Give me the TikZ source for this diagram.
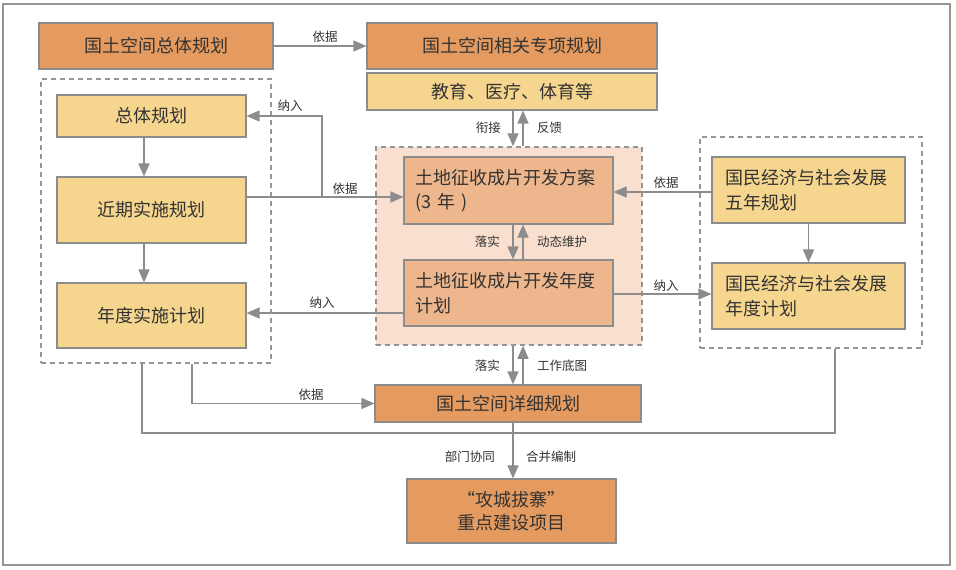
\documentclass[tikz,border=0pt]{standalone}
\usepackage{fontspec}
\setmainfont{Noto Sans CJK SC}
\usetikzlibrary{arrows.meta}
\definecolor{dorange}{HTML}{E59B5F}
\definecolor{lyellow}{HTML}{F6D68E}
\definecolor{pinkbg}{HTML}{F9DFCE}
\definecolor{salmon}{HTML}{EEB68C}
\definecolor{lgray}{HTML}{8C8C8C}
\definecolor{dgray}{HTML}{959595}
\definecolor{txt}{HTML}{333333}
\begin{document}
\begin{tikzpicture}[x=1pt,y=-1pt,
  box/.style={draw=lgray, line width=1.1pt, text=txt, font=\fontsize{18}{24.5}\selectfont, inner sep=0pt, align=center},
  lbox/.style={box, align=left, inner xsep=11pt},
  dbox/.style={draw=dgray, line width=1.5pt, dash pattern=on 5pt off 4pt, inner sep=0pt},
  conn/.style={draw=lgray, line width=1.4pt},
  arr/.style={conn, -{Triangle[length=13pt,width=11pt]}},
  lbl/.style={font=\fontsize{12.5}{14}\selectfont, text=txt, inner sep=0pt},
]
\useasboundingbox (0,0) rectangle (956,570);
\draw[draw=dgray, line width=1.2pt, fill=white] (3,4) rectangle (950,565);

% regions
\node[dbox, fill=pinkbg, minimum width=266pt, minimum height=198pt] (pk) at (509,246) {};
\node[dbox, minimum width=230pt, minimum height=284pt] (ld) at (156,221) {};
\node[dbox, minimum width=222pt, minimum height=211pt] (rd) at (811,242.5) {};

% boxes
\node[box, fill=dorange, minimum width=234pt, minimum height=46pt] (gtzt) at (156,46) {国土空间总体规划};
\node[box, fill=dorange, minimum width=290pt, minimum height=46pt] (gtzx) at (512,46) {国土空间相关专项规划};
\node[box, fill=lyellow, minimum width=290pt, minimum height=37pt] (jy) at (512,91.5) {教育、医疗、体育等};
\node[box, fill=lyellow, minimum width=189pt, minimum height=42pt] (zt) at (151.5,116) {总体规划};
\node[box, fill=lyellow, minimum width=189pt, minimum height=66pt] (jq) at (151.5,210) {近期实施规划};
\node[box, fill=lyellow, minimum width=189pt, minimum height=65pt] (nd) at (151.5,315.5) {年度实施计划};
\node[lbox, fill=salmon, text width=187pt, minimum height=67pt] (fa) at (508.5,190.5) {土地征收成片开发方案\\(3 年 )};
\node[lbox, fill=salmon, text width=187pt, minimum height=66pt] (ndjh) at (508.5,293) {土地征收成片开发年度\\计划};
\node[lbox, fill=lyellow, inner xsep=13pt, text width=167pt, minimum height=66pt] (gm5) at (808.5,190) {国民经济与社会发展\\五年规划};
\node[lbox, fill=lyellow, inner xsep=13pt, text width=167pt, minimum height=66pt] (gmnd) at (808.5,296) {国民经济与社会发展\\年度计划};
\node[box, fill=dorange, minimum width=266pt, minimum height=37pt] (xx) at (508,403.5) {国土空间详细规划};
\node[box, fill=dorange, minimum width=209pt, minimum height=64pt, font=\fontsize{18}{23}\selectfont] (gc) at (511.5,511) {“攻城拔寨”\\重点建设项目};

% helper coordinates
\coordinate (xa) at (513,0);
\coordinate (xb) at (523,0);
\coordinate (xl) at (144,0);
\coordinate (y1) at (0,197);
\coordinate (y2) at (0,192);
\coordinate (y3) at (0,294);
\coordinate (y4) at (0,313);
\coordinate (k1) at (322,197);
\coordinate (b1) at (142,0);
\coordinate (b2) at (835,433);
\coordinate (b3) at (192,0);

% connectors
\draw[arr] (gtzt.east) -- (gtzx.west);
\draw[arr] (xa |- jy.south) -- (xa |- pk.north);
\draw[arr] (xb |- pk.north) -- (xb |- jy.south);
\draw[arr] (xa |- fa.south) -- (xa |- ndjh.north);
\draw[arr] (xb |- ndjh.north) -- (xb |- fa.south);
\draw[arr] (xa |- pk.south) -- (xa |- xx.north);
\draw[arr] (xb |- xx.north) -- (xb |- pk.south);
\draw[arr] (xl |- zt.south) -- (xl |- jq.north);
\draw[arr] (xl |- jq.south) -- (xl |- nd.north);
\draw[arr] (gm5) -- (gmnd);
\draw[arr] (jq.east |- y1) -- (fa.west |- y1);
\draw[arr] (k1) |- (zt.east);
\draw[arr] (gm5.west |- y2) -- (fa.east |- y2);
\draw[arr] (ndjh.east |- y3) -- (gmnd.west |- y3);
\draw[arr] (ndjh.west |- y4) -- (nd.east |- y4);
\draw[conn] (b1 |- ld.south) |- (b2) -- (b2 |- rd.south);
\draw[arr] (b3 |- ld.south) |- (xx.west);
\draw[arr] (xa |- xx.south) -- (xa |- gc.north);

% labels
\node[lbl] (l1) at (325,37) {依据};
\node[lbl] (l2) at (290,106) {纳入};
\node[lbl] (l3) at (345,189) {依据};
\node[lbl, anchor=east] (l4) at (501,128) {衔接};
\node[lbl, anchor=west] (l5) at (537,128) {反馈};
\node[lbl, anchor=east] (l6) at (500,242) {落实};
\node[lbl, anchor=west] (l7) at (537,242) {动态维护};
\node[lbl, anchor=east] (l8) at (500,366) {落实};
\node[lbl, anchor=west] (l9) at (537,366) {工作底图};
\node[lbl] (l10) at (311,395) {依据};
\node[lbl, anchor=east] (l11) at (495,457) {部门协同};
\node[lbl, anchor=west] (l12) at (526,457) {合并编制};
\node[lbl] (l13) at (666,183) {依据};
\node[lbl] (l14) at (666,286) {纳入};
\node[lbl] (l15) at (322,303) {纳入};
\end{tikzpicture}
\end{document}
